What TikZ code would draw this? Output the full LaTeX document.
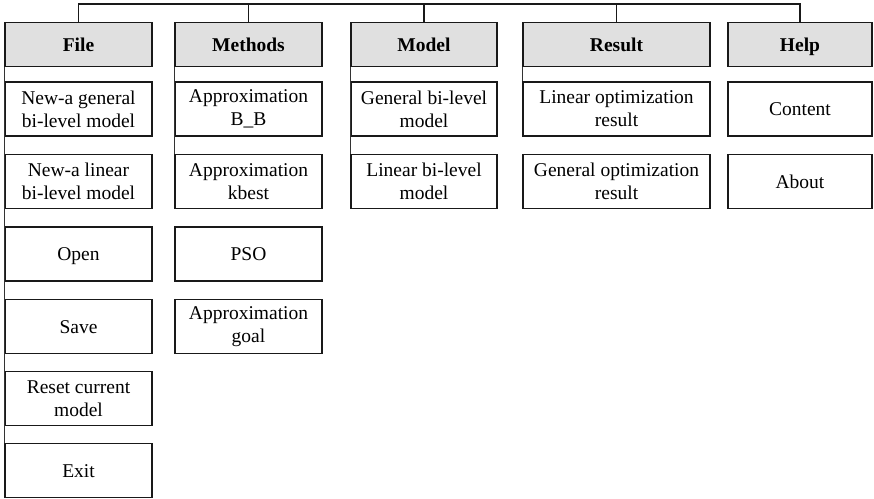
\documentclass[tikz,border=0pt]{standalone}
\usepackage{fontspec}
\setmainfont{Liberation Serif}
\begin{document}
\begin{tikzpicture}[x=1pt,y=-1pt,
  every node/.style={font=\fontsize{19.5}{23}\selectfont},
  menuhead/.style={draw=black!90, line width=1.4pt, fill=black!12,
    minimum height=44pt, inner sep=0pt, text height=13pt, text depth=-1.5pt,
    font=\fontsize{19.5}{23}\selectfont\bfseries},
  menuitem/.style={draw=black!90, line width=1.4pt, fill=white,
    minimum height=54pt, inner sep=0pt, align=center},
  oneline/.style={text height=13pt, text depth=0pt},
  bus/.style={draw=black!90, line width=1.2pt},
  spine/.style={draw=black!80, line width=0.9pt}]
\useasboundingbox (0,0) rectangle (874,498);

\coordinate (busy) at (0,4);

% column headers
\node[menuhead, minimum width=147pt] (fileH)   at (78.5,44.5)  {File};
\node[menuhead, minimum width=147pt] (methH)   at (248.5,44.5) {Methods};
\node[menuhead, minimum width=146pt] (modelH)  at (424,44.5)   {Model};
\node[menuhead, minimum width=187pt] (resH)    at (616.5,44.5) {Result};
\node[menuhead, minimum width=144pt] (helpH)   at (800,44.5)   {Help};

% File menu
\begin{scope}[menuitem/.append style={minimum width=147pt}]
\node[menuitem] (f1) at (78.5,109)   {New-a general\\bi-level model};
\node[menuitem] (f2) at (78.5,181.5) {New-a linear\\bi-level model};
\node[menuitem, oneline] (f3) at (78.5,254)   {Open};
\node[menuitem, oneline] (f4) at (78.5,326.5) {Save};
\node[menuitem] (f5) at (78.5,398.5) {Reset current\\model};
\node[menuitem, oneline] (f6) at (78.5,470.5) {Exit};
\end{scope}

% Methods menu
\begin{scope}[menuitem/.append style={minimum width=147pt}]
\node[menuitem] (m1) at (248.5,109)   {Approximation\\B\_B};
\node[menuitem] (m2) at (248.5,181.5) {Approximation\\kbest};
\node[menuitem, oneline] (m3) at (248.5,254)   {PSO};
\node[menuitem] (m4) at (248.5,326.5) {Approximation\\goal};
\end{scope}

% Model menu
\begin{scope}[menuitem/.append style={minimum width=146pt}]
\node[menuitem] (d1) at (424,109)   {General bi-level\\model};
\node[menuitem] (d2) at (424,181.5) {Linear bi-level\\model};
\end{scope}

% Result menu
\begin{scope}[menuitem/.append style={minimum width=187pt}]
\node[menuitem] (r1) at (616.5,109)   {Linear optimization\\result};
\node[menuitem] (r2) at (616.5,181.5) {General optimization\\result};
\end{scope}

% Help menu
\begin{scope}[menuitem/.append style={minimum width=144pt}]
\node[menuitem, oneline] (h1) at (800,109)   {Content};
\node[menuitem, oneline] (h2) at (800,181.5) {About};
\end{scope}

% spines joining each header to its items
\draw[spine] (fileH.south west) -- (f6.north west);
\draw[spine] (methH.south west) -- (m2.north west);
\draw[spine] (modelH.south west) -- (d2.north west);
\draw[spine] (resH.south west) -- (r1.north west);

% top bus joining the headers
\draw[bus] (fileH.north) -- (fileH.north |- busy) -- (helpH.north |- busy) -- (helpH.north);
\draw[bus] (methH.north) -- (methH.north |- busy);
\draw[bus] (modelH.north) -- (modelH.north |- busy);
\draw[bus] (resH.north) -- (resH.north |- busy);
\end{tikzpicture}
\end{document}
